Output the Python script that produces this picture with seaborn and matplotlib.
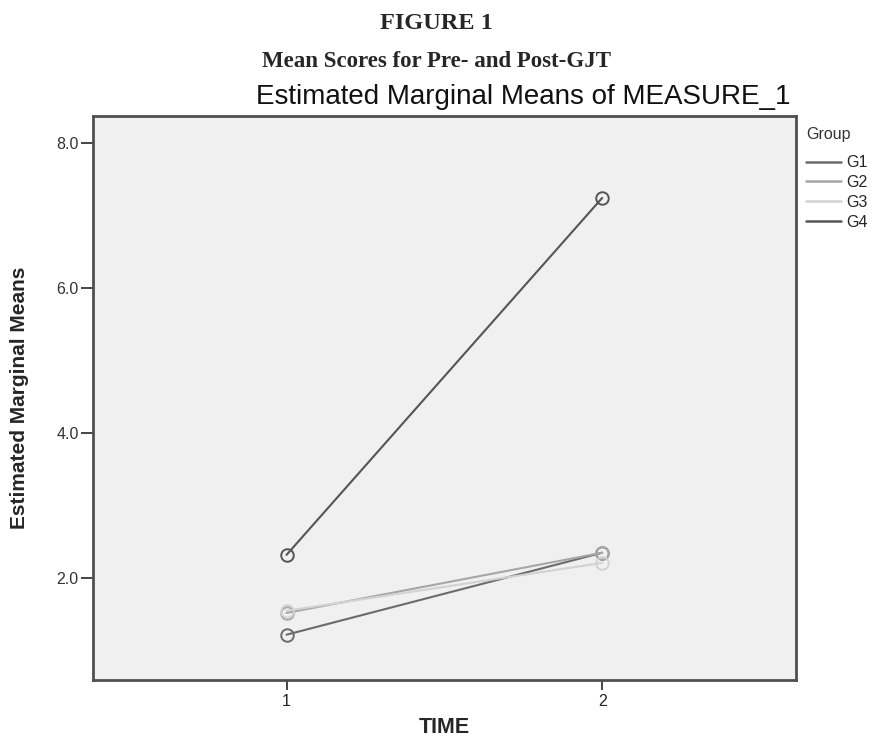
import matplotlib
matplotlib.use("Agg")
import matplotlib.pyplot as plt
from matplotlib.lines import Line2D
from matplotlib.ticker import FormatStrFormatter
import seaborn as sns
import pandas as pd

# estimated marginal means
time_points = [1, 2]
groups = ["G1", "G2", "G3", "G4"]
g1_means = [1.22, 2.35]
g2_means = [1.52, 2.35]
g3_means = [1.55, 2.21]
g4_means = [2.32, 7.24]
group_colors = ["#6b6b6b", "#a6a6a6", "#d2d2d2", "#555555"]

df = pd.DataFrame({
    "TIME": time_points * 4,
    "Mean": g1_means + g2_means + g3_means + g4_means,
    "Group": [g for g in groups for _ in time_points],
})
palette = dict(zip(groups, group_colors))

sns.set_style("white")
plt.rcParams["font.family"] = ["Liberation Sans", "DejaVu Sans"]

fig = plt.figure(figsize=(8.72, 7.43), dpi=100)
ax = fig.add_axes([0.1063, 0.0852, 0.8065, 0.7587])
ax.set_facecolor("#f0f0f0")

sns.lineplot(data=df, x="TIME", y="Mean", hue="Group", palette=palette,
             marker="o", markersize=9, linewidth=1.5, legend=False, ax=ax)
for line in ax.lines:
    line.set_markerfacecolor("none")
    line.set_markeredgecolor(line.get_color())
    line.set_markeredgewidth(1.4)

ax.set_xlim(0.386, 2.614)
ax.set_ylim(0.6, 8.37)
ax.set_xticks(time_points)
ax.set_yticks([2, 4, 6, 8])
ax.yaxis.set_major_formatter(FormatStrFormatter("%.1f"))
ax.tick_params(axis="y", direction="out", length=9, width=1.4, color="#444444",
               labelsize=11.5, labelcolor="#333333", pad=1, left=True)
ax.tick_params(axis="x", direction="out", length=7, width=1.4, color="#444444",
               labelsize=11.5, labelcolor="#222222", pad=3, bottom=True)
for side in ax.spines.values():
    side.set_color("#505050")
    side.set_linewidth(2)

ax.set_xlabel("TIME", fontsize=15.5, fontweight="bold", labelpad=6)
ax.set_ylabel("Estimated Marginal Means", fontsize=15, fontweight="bold",
              labelpad=20)

fig.text(0.5, 0.969, "FIGURE 1", ha="center", va="center", fontsize=17.5,
         fontweight="bold", family=["Liberation Serif", "DejaVu Serif"])
fig.text(0.5, 0.917, "Mean Scores for Pre- and Post-GJT", ha="center", va="center",
         fontsize=16.5, fontweight="bold", family=["Liberation Serif", "DejaVu Serif"])
fig.text(0.6, 0.869, "Estimated Marginal Means of MEASURE_1", ha="center",
         va="center", fontsize=20, color="#111111")

fig.text(806 / 872, 1 - 135 / 743, "Group", ha="left", va="center",
         fontsize=11.5, color="#333333")
handles = [Line2D([], [], color=c, linewidth=1.8) for c in group_colors]
leg = fig.legend(handles, groups, loc="upper left",
                 bbox_to_anchor=(0.924, 0.791), frameon=False, fontsize=11.5,
                 handlelength=2.2, handletextpad=0.35,
                 labelspacing=0.3, borderaxespad=0, borderpad=0)

fig.savefig("out.png", dpi=100)
